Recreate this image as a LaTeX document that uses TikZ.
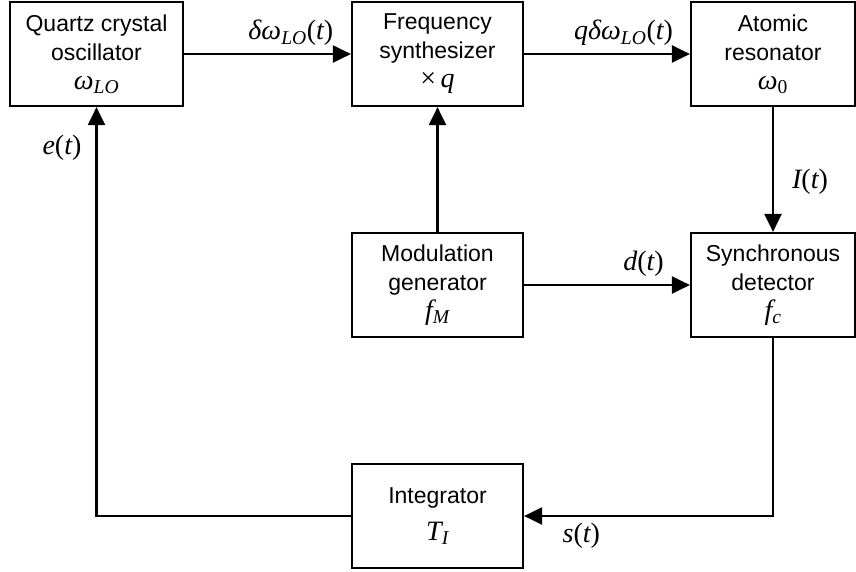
\documentclass[tikz,border=0pt]{standalone}
\usepackage{fontspec}
\setsansfont{Liberation Sans}
\newfontfamily\tms{Liberation Serif}
\usepackage{tikz}
\usetikzlibrary{arrows.meta}

% variables in Times-like italics
\newcommand{\mv}[1]{{\tms\itshape #1}}
\newcommand{\up}[1]{{\tms #1}}
\newcommand{\symline}[1]{{\fontsize{28}{29}\selectfont #1}}

\tikzset{
  block/.style={draw, line width=2.2pt, minimum width=171pt, minimum height=104pt,
    align=center, inner sep=0pt, font=\sffamily\fontsize{23}{29}\selectfont},
  sig/.style={line width=2.2pt, -{Triangle[length=18pt,width=17pt]}},
  lbl/.style={font=\fontsize{28}{30}\selectfont, inner sep=2pt}
}

\begin{document}
\begin{tikzpicture}[x=1pt,y=-1pt]
\useasboundingbox (0,0) rectangle (856,571);
% Blocks
\node[block, minimum width=173pt] (quartz) at (96.5, 54) {Quartz crystal\\oscillator\\\symline{\mv{ω}\textsubscript{\mv{LO}}}};
\node[block] (synth) at (437.5, 54) {Frequency\\synthesizer\\\symline{\up{×}\,\mv{q}}};
\node[block, minimum width=164pt] (atom) at (773, 54) {Atomic\\resonator\\\symline{\mv{ω}\textsubscript{\up{0}}}};
\node[block] (modgen) at (437.5, 285) {Modulation\\generator\\\symline{\mv{f}\textsubscript{\mv{M}}}};
\node[block, minimum width=164pt] (sync) at (773, 285) {Synchronous\\detector\\\symline{\mv{f}\textsubscript{\mv{c}}}};
\node[block] (integ) at (437.5, 516) {Integrator\\[8pt]\symline{\mv{T}\textsubscript{\mv{I}}}};
%
% Forward path
\draw[sig] (quartz) -- node[lbl, above=5pt, pos=0.64] (dw) {\mv{δω}\textsubscript{\mv{LO}}\up{(}\mv{t}\up{)}} (synth);
\draw[sig] (synth) -- node[lbl, above=5pt, pos=0.6] (qdw) {\mv{qδω}\textsubscript{\mv{LO}}\up{(}\mv{t}\up{)}} (atom);
\draw[sig] (atom) -- node[lbl, right=16pt, pos=0.6] (it) {\mv{I}\up{(}\mv{t}\up{)}} (sync);
% Modulation
\draw[sig] (modgen) -- (synth);
\draw[sig] (modgen) -- node[lbl, above=5pt, pos=0.72] (dt) {\mv{d}\up{(}\mv{t}\up{)}} (sync);
% Feedback loop
\draw[sig] (sync.south) |- node[lbl, below=4pt, pos=0.885] (st) {\mv{s}\up{(}\mv{t}\up{)}} (integ.east);
\draw[sig] (integ.west) -| node[lbl, left=12pt, pos=0.95] (et) {\mv{e}\up{(}\mv{t}\up{)}} (quartz.south);
\end{tikzpicture}
\end{document}
